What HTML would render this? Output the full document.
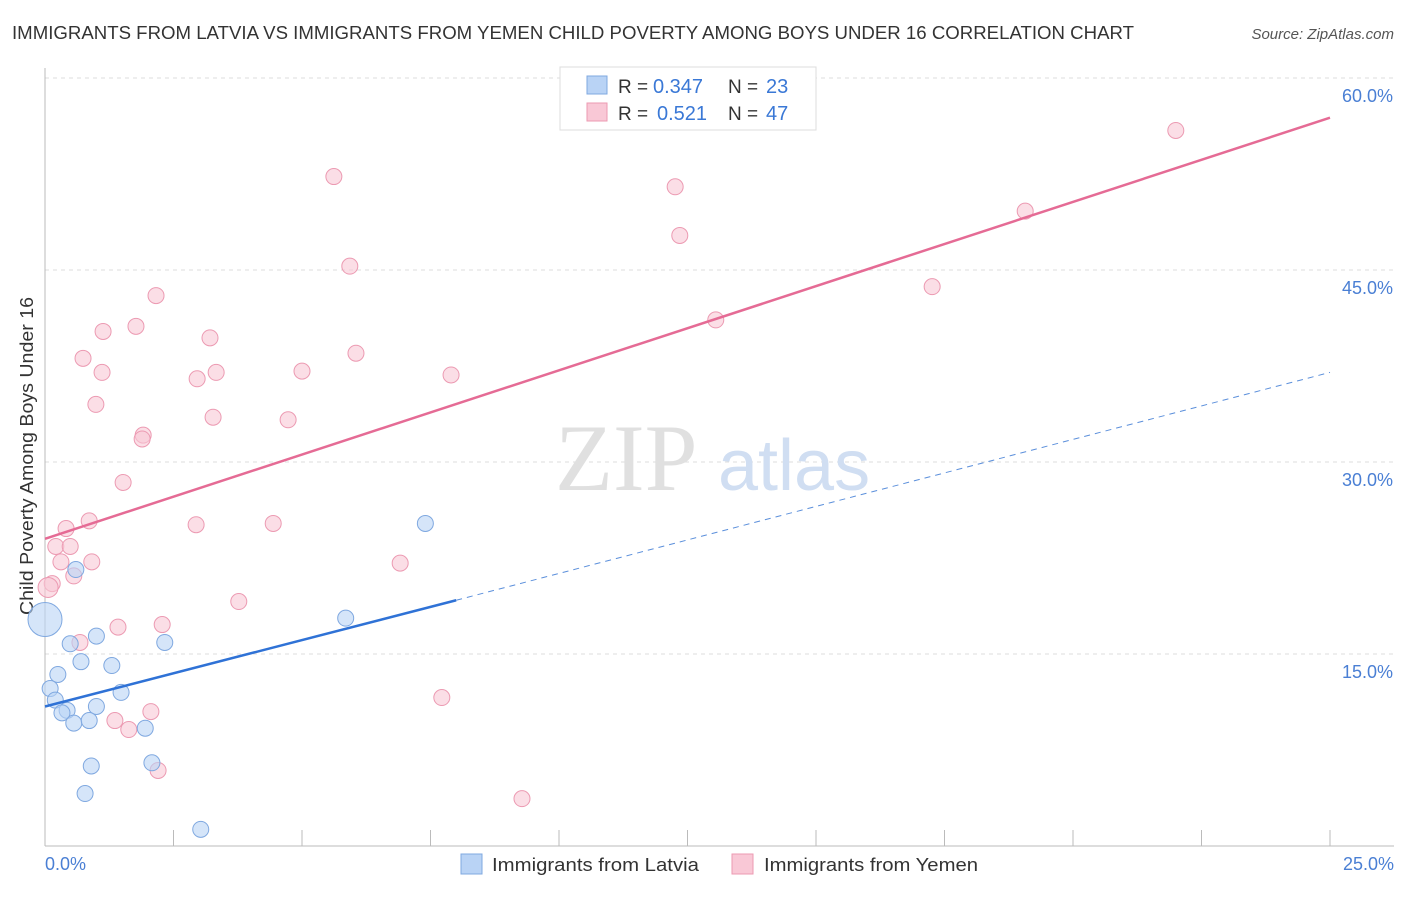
<!DOCTYPE html>
<html><head><meta charset="utf-8"><style>
body{margin:0;background:#fff;font-family:"Liberation Sans",sans-serif;}
</style></head><body>
<svg width="1406" height="892" xmlns="http://www.w3.org/2000/svg" font-family="Liberation Sans, sans-serif">
<text x="12" y="39" font-size="18" fill="#333" textLength="1122" lengthAdjust="spacingAndGlyphs">IMMIGRANTS FROM LATVIA VS IMMIGRANTS FROM YEMEN CHILD POVERTY AMONG BOYS UNDER 16 CORRELATION CHART</text>
<text x="1394" y="39" font-size="15" fill="#555" font-style="italic" text-anchor="end">Source: ZipAtlas.com</text>
<g id="grid"></g>
<text x="555" y="490" font-size="95" fill="#e0e0e0" font-family="Liberation Serif, serif">ZIP</text>
<text x="718" y="490" font-size="72" fill="#d0def2">atlas</text>
<line x1="45" y1="68" x2="45" y2="846" stroke="#bbb"/>
<line x1="45" y1="846" x2="1394" y2="846" stroke="#bbb"/>
<text transform="translate(33,456) rotate(-90)" font-size="18" fill="#333" text-anchor="middle" textLength="318" lengthAdjust="spacingAndGlyphs">Child Poverty Among Boys Under 16</text>
<text x="45" y="870" font-size="18" fill="#4a7fd4">0.0%</text>
<text x="1394" y="870" font-size="18" fill="#4a7fd4" text-anchor="end">25.0%</text>
<g id="marks"></g>
<g>
<rect x="560" y="67" width="256" height="63" fill="#fff" stroke="#ddd"/>
<rect x="587" y="76" width="20" height="18" fill="#b9d3f5" stroke="#7fa8e0"/>
<rect x="587" y="103" width="20" height="18" fill="#f9c8d6" stroke="#ec9ab2"/>
<text x="618" y="93" font-size="19" fill="#333">R =</text>
<text x="653" y="93" font-size="20" fill="#3a78d6">0.347</text>
<text x="728" y="93" font-size="19" fill="#333">N =</text>
<text x="766" y="93" font-size="20" fill="#3a78d6">23</text>
<text x="618" y="120" font-size="19" fill="#333">R =</text>
<text x="657" y="120" font-size="20" fill="#3a78d6">0.521</text>
<text x="728" y="120" font-size="19" fill="#333">N =</text>
<text x="766" y="120" font-size="20" fill="#3a78d6">47</text>
</g>
<g>
<rect x="461" y="854" width="21" height="20" fill="#b9d3f5" stroke="#7fa8e0"/>
<text x="492" y="871" font-size="18" fill="#333" textLength="207" lengthAdjust="spacingAndGlyphs">Immigrants from Latvia</text>
<rect x="732" y="854" width="21" height="20" fill="#f9c8d6" stroke="#ec9ab2"/>
<text x="764" y="871" font-size="18" fill="#333" textLength="214" lengthAdjust="spacingAndGlyphs">Immigrants from Yemen</text>
</g>
</svg>
<script>
const yTicks=[15,30,45,60];
const xTicks=[0,2.5,5,7.5,10,12.5,15,17.5,20,22.5,25];
const latviaX=[0,0.6,7.4,5.85,0.49,1.0,2.33,0.7,1.3,0.25,0.1,0.2,1.48,1.0,0.43,0.33,0.56,0.86,1.95,2.08,0.9,0.78,3.03];
const latviaY=[17.7,21.6,25.2,17.8,15.8,16.4,15.9,14.4,14.1,13.4,12.3,11.4,12.0,10.9,10.6,10.4,9.6,9.8,9.2,6.5,6.25,4.1,1.3];
const yemenX=[22.0,5.62,12.26,12.35,19.07,5.93,17.26,2.16,1.77,1.13,3.21,13.05,6.05,0.74,1.11,3.33,5.0,7.9,2.96,0.99,3.27,4.73,1.91,1.89,1.52,0.86,0.41,2.94,4.44,0.21,0.49,0.31,0.91,6.91,0.56,0.14,0.06,3.77,0.68,1.42,2.28,7.72,1.36,2.06,1.63,2.2,9.28];
const yemenY=[55.9,52.3,51.5,47.7,49.6,45.3,43.7,43.0,40.6,40.2,39.7,41.1,38.5,38.1,37.0,37.0,37.1,36.8,36.5,34.5,33.5,33.3,32.1,31.8,28.4,25.4,24.8,25.1,25.2,23.4,23.4,22.2,22.2,22.1,21.1,20.5,20.2,19.1,15.9,17.1,17.3,11.6,9.8,10.5,9.1,5.9,3.7];
const yemenLine=[[0,24.0],[25,56.9]];
const latviaLine=[[0,10.9],[8.0,19.2]];
const latviaDash=[[8.0,19.2],[25,37.0]];
const NS='http://www.w3.org/2000/svg';
const sx=v=>45+v*51.4, sy=v=>846-v*12.8;
function mk(t,a,p){const e=document.createElementNS(NS,t);for(const k in a)e.setAttribute(k,a[k]);p.appendChild(e);return e;}
const grid=document.getElementById('grid'),marks=document.getElementById('marks');
yTicks.forEach(t=>{
 const l=mk('line',{x1:45,x2:1394,y1:sy(t),y2:sy(t),stroke:'#ddd','stroke-dasharray':'4,4'},grid);
 
 
 const tx=mk('text',{x:1393,y:sy(t)+24,'font-size':18,fill:'#4a7fd4','text-anchor':'end'},grid);
 tx.textContent=t.toFixed(1)+'%';
 
 
});
xTicks.forEach(t=>{
 const l=mk('line',{x1:sx(t),x2:sx(t),y1:830,y2:846,stroke:'#bbb'},grid);
 
 
});
yemenX.forEach((x,i)=>{
 const c=mk('circle',{cx:sx(x),cy:sy(yemenY[i]),r:i==36?10:8,fill:'#f9c8d6','fill-opacity':0.6,stroke:'#ec9ab2'},marks);
 
 
});
latviaX.forEach((x,i)=>{
 const c=mk('circle',{cx:sx(x),cy:sy(latviaY[i]),r:i==0?17:8,fill:'#b9d3f5','fill-opacity':0.6,stroke:'#7fa8e0'},marks);
 
 
});
function ln(pts,col,dash,w,name){
 const l=mk('line',{x1:sx(pts[0][0]),y1:sy(pts[0][1]),x2:sx(pts[1][0]),y2:sy(pts[1][1]),stroke:col,'stroke-width':w},marks);
 if(dash)l.setAttribute('stroke-dasharray',dash);
 
 
}
ln(yemenLine,'#e56b95',null,2.5,'yemen-trend-line');
ln(latviaLine,'#2f72d6',null,2.5,'latvia-trend-line');
ln(latviaDash,'#5b8fdb','6,5',1,'latvia-trend-extension');
</script>
</body></html>
